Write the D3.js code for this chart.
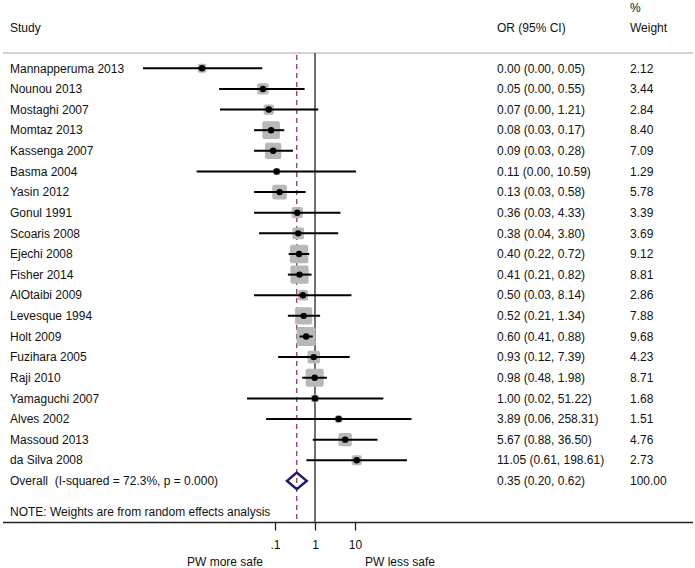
<!DOCTYPE html>
<html><head><meta charset="utf-8">
<script src="https://cdn.jsdelivr.net/npm/d3@7"></script>
<style>body{margin:0;background:#fff}svg{display:block}text{font-family:"Liberation Sans",Arial,sans-serif;font-size:12px;fill:#111;white-space:pre}</style>
</head><body><svg id="c" width="695" height="568"></svg>
<script>
const studies = ["Mannapperuma 2013","Nounou 2013","Mostaghi 2007","Momtaz 2013","Kassenga 2007","Basma 2004","Yasin 2012","Gonul 1991","Scoaris 2008","Ejechi 2008","Fisher 2014","AlOtaibi 2009","Levesque 1994","Holt 2009","Fuzihara 2005","Raji 2010","Yamaguchi 2007","Alves 2002","Massoud 2013","da Silva 2008"];
const or    = [0.0015,0.05,0.07,0.08,0.09,0.11,0.13,0.36,0.38,0.40,0.41,0.50,0.52,0.60,0.93,0.98,1.00,3.89,5.67,11.05];
const lower = [0.00005,0.004,0.0042,0.03,0.03,0.0011,0.03,0.03,0.04,0.22,0.21,0.03,0.21,0.41,0.12,0.48,0.02,0.06,0.88,0.61];
const upper = [0.048,0.55,1.21,0.17,0.28,10.59,0.58,4.33,3.80,0.72,0.82,8.14,1.34,0.88,7.39,1.98,51.22,258.31,36.50,198.61];
const weight = [2.12,3.44,2.84,8.40,7.09,1.29,5.78,3.39,3.69,9.12,8.81,2.86,7.88,9.68,4.23,8.71,1.68,1.51,4.76,2.73];
const overall = {or:0.35, lo:0.20, hi:0.62, weight:100.00, label:"Overall  (I-squared = 72.3%, p = 0.000)"};
const tickValues = [0.1, 1, 10];
const tickLabels = [".1", "1", "10"];

const svg = d3.select("#c");
const x = d3.scaleLog().domain([0.1, 10]).range([275, 355]);
const y = d3.scaleLinear().domain([0, 1]).range([68.3, 88.93]);
const f2 = d3.format(".2f");
const boxSize = d3.scaleSqrt().domain([0, 9.68]).range([0, 19]);
const yTop = 53, yAxis = 522.5;

// headers
svg.append("text").attr("x",10).attr("y",31.5).text("Study");
svg.append("text").attr("x",497).attr("y",32).text("OR (95% CI)");
svg.append("text").attr("x",630).attr("y",12).text("%");
svg.append("text").attr("x",630).attr("y",32).text("Weight");
svg.append("line").attr("x1",3).attr("x2",693).attr("y1",yTop).attr("y2",yTop).attr("stroke","#c4c4c4").attr("stroke-width",1.5);

// null line and overall dashed line
svg.append("line").attr("x1",x(1)).attr("x2",x(1)).attr("y1",yTop).attr("y2",yAxis).attr("stroke","#111").attr("stroke-width",1.2);
svg.append("line").attr("x1",x(overall.or)).attr("x2",x(overall.or)).attr("y1",yTop+2).attr("y2",yAxis).attr("stroke","#9b2335").attr("stroke-width",1.2).attr("stroke-dasharray","5,4");

const rows = svg.append("g").selectAll("g").data(studies).join("g");
rows.append("rect")
  .attr("x",(d,i)=>x(or[i])-boxSize(weight[i])/2)
  .attr("y",(d,i)=>y(i)-boxSize(weight[i])/2)
  .attr("width",(d,i)=>boxSize(weight[i]))
  .attr("height",(d,i)=>boxSize(weight[i]))
  .attr("rx",2).attr("fill","#b8b8b8");
rows.append("line")
  .attr("x1",(d,i)=>x(lower[i])).attr("x2",(d,i)=>x(upper[i]))
  .attr("y1",(d,i)=>y(i)).attr("y2",(d,i)=>y(i))
  .attr("stroke","#000").attr("stroke-width",2);
rows.append("circle").attr("cx",(d,i)=>x(or[i])).attr("cy",(d,i)=>y(i)).attr("r",3.2).attr("fill","#000");
rows.append("text").attr("x",10).attr("y",(d,i)=>y(i)).attr("dy","0.35em").text(d=>d);
rows.append("text").attr("x",497).attr("y",(d,i)=>y(i)).attr("dy","0.35em")
  .text((d,i)=>`${f2(or[i])} (${f2(lower[i])}, ${f2(upper[i])})`);
rows.append("text").attr("x",630).attr("y",(d,i)=>y(i)).attr("dy","0.35em").text((d,i)=>f2(weight[i]));

// overall
const yo = y(studies.length);
svg.append("path")
  .attr("d",`M${x(overall.lo)},${yo} L${x(overall.or)},${yo-8.3} L${x(overall.hi)},${yo} L${x(overall.or)},${yo+8.3} Z`)
  .attr("fill","none").attr("stroke","#1c1c6e").attr("stroke-width",2.5).attr("stroke-linejoin","miter");
svg.append("text").attr("x",10).attr("y",yo).attr("dy","0.35em").text(overall.label);
svg.append("text").attr("x",497).attr("y",yo).attr("dy","0.35em").text(`${f2(overall.or)} (${f2(overall.lo)}, ${f2(overall.hi)})`);
svg.append("text").attr("x",630).attr("y",yo).attr("dy","0.35em").text(f2(overall.weight));
svg.append("text").attr("x",10).attr("y",y(studies.length+1.5)).attr("dy","0.35em").text("NOTE: Weights are from random effects analysis");

// axis
svg.append("line").attr("x1",3).attr("x2",693).attr("y1",yAxis).attr("y2",yAxis).attr("stroke","#222").attr("stroke-width",1.5);
const ax = svg.append("g").attr("transform",`translate(0,${yAxis})`)
  .call(d3.axisBottom(x).tickValues(tickValues).tickFormat((d,i)=>tickLabels[i]).tickSize(8).tickPadding(10));
ax.select(".domain").remove();
ax.selectAll(".tick line").attr("stroke","#222").attr("stroke-width",1.3);
ax.selectAll(".tick text").attr("font-size",12).attr("font-family","Liberation Sans, Arial, sans-serif").attr("fill","#111");
svg.append("text").attr("x",225).attr("y",566).attr("text-anchor","middle").text("PW more safe");
svg.append("text").attr("x",400).attr("y",566).attr("text-anchor","middle").text("PW less safe");
</script></body></html>
